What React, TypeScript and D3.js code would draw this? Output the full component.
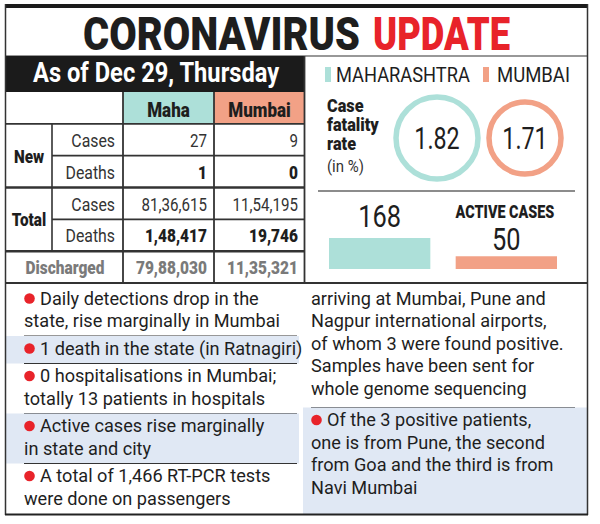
import React from "react";
import * as d3 from "d3";

// ---- data ----
const title = ["CORONAVIRUS", "UPDATE"];
const dateLabel = "As of Dec 29, Thursday";
const regions = ["Maha", "Mumbai"];
const legendLabels = ["MAHARASHTRA", "MUMBAI"];
const groups = ["New", "Total"];
const measures = ["Cases", "Deaths"];
const mahaValues = [27, 1, 8136615, 148417];
const mumbaiValues = [9, 0, 1154195, 19746];
const dischargedValues = [7988030, 1135321];
const fatalityRates = [1.82, 1.71];
const activeCases = [168, 50];

const leftBullets = [
  { lines: ["Daily detections drop in the", "state, rise marginally in Mumbai"], shaded: false, dot: true },
  { lines: ["1 death in the state (in Ratnagiri)"], shaded: true, dot: true },
  { lines: ["0 hospitalisations in Mumbai;", "totally 13 patients in hospitals"], shaded: false, dot: true },
  { lines: ["Active cases rise marginally", "in state and city"], shaded: true, dot: true },
  { lines: ["A total of 1,466 RT-PCR tests", "were done on passengers"], shaded: false, dot: true },
];
const rightBullets = [
  {
    lines: [
      "arriving at Mumbai, Pune and",
      "Nagpur international airports,",
      "of whom 3 were found positive.",
      "Samples have been sent for",
      "whole genome sequencing",
    ],
    shaded: false,
    dot: false,
  },
  {
    lines: ["Of the 3 positive patients,", "one is from Pune, the second", "from Goa and the third is from", "Navi Mumbai"],
    shaded: true,
    dot: true,
  },
];

// ---- styles ----
const FONT = "Roboto, 'Liberation Sans', sans-serif";
const TEAL = "#ade0d9";
const SALMON = "#f2a186";
const RED = "#e8232a";
const INK = "#1e1e1e";
const LINE = "#333";
const SHADE = "#e0e8f4";
const GREY = "#7a7a7a";

let measureCtx: CanvasRenderingContext2D | null = null;
function measure(text: string, size: number, weight: number | string): number {
  if (!measureCtx) {
    const c = document.createElement("canvas");
    measureCtx = c.getContext("2d");
  }
  if (!measureCtx) return text.length * size * 0.55;
  measureCtx.font = `${weight} ${size}px Roboto, 'Liberation Sans', sans-serif`;
  return measureCtx.measureText(text).width || text.length * size * 0.55;
}

function fmtIndian(n: number): string {
  const s = String(Math.round(n));
  if (s.length <= 3) return s;
  const last3 = s.slice(-3);
  let rest = s.slice(0, -3);
  const parts: string[] = [];
  while (rest.length > 2) {
    parts.unshift(rest.slice(-2));
    rest = rest.slice(0, -2);
  }
  if (rest.length) parts.unshift(rest);
  return parts.join(",") + "," + last3;
}

type TProps = {
  x: number;
  y: number;
  size: number;
  weight?: number | string;
  fill?: string;
  anchor?: "start" | "middle" | "end";
  sx?: number;
  fit?: number;
  children: string | number;
};
function T({ x, y, size, weight = 400, fill = INK, anchor = "start", sx = 1, fit, children }: TProps) {
  const s = fit ? fit / measure(String(children), size, weight) : sx;
  return (
    <text
      transform={`translate(${x},${y}) scale(${s},1)`}
      fontFamily={FONT}
      fontSize={size}
      fontWeight={weight}
      fill={fill}
      textAnchor={anchor}
    >
      {children}
    </text>
  );
}

export default function App() {
  const W = 600;
  const H = 524;

  // table scales
  const rowKeys = ["head", "newCases", "newDeaths", "totCases", "totDeaths", "discharged"];
  const yRow = d3.scaleBand<string>().domain(rowKeys).range([92, 283]);
  const xCol = d3.scaleBand<string>().domain(regions).range([123, 305]);
  const labelSplit = 52;
  const tableLeft = 6;
  const rh = yRow.bandwidth();

  const dataRows = ["newCases", "newDeaths", "totCases", "totDeaths"];
  const bodySX = 0.955;

  // bar scale for active cases
  const barH = d3.scaleLinear().domain([0, d3.max(activeCases) as number]).range([5, 31]);
  const barX = d3.scaleBand<string>().domain(regions).range([329, 557]).paddingInner(0.2);
  const barBottom = 269;

  const circleX = d3.scaleOrdinal<string, number>().domain(regions).range([437, 525]);
  const circleR = [41, 36];
  const colors = [TEAL, SALMON];

  const renderBullets = (
    items: { lines: string[]; shaded: boolean; dot: boolean }[],
    x0: number,
    x1: number,
    lineX0: number,
    lineX1: number,
    top: number,
    pad: number
  ) => {
    let y = top;
    const out: React.ReactNode[] = [];
    items.forEach((b, i) => {
      const h = pad + 22.5 * b.lines.length;
      if (b.shaded) out.push(<rect key={`bg${i}`} x={x0} y={y} width={x1 - x0} height={i === items.length - 1 ? 514 - y : h} fill={SHADE} />);
      b.lines.forEach((ln, j) => {
        const by = y + 18.5 + j * 22.5;
        const tx = j === 0 && b.dot ? lineX0 + 16 : lineX0;
        out.push(
          <T key={`t${i}-${j}`} x={tx} y={by} size={19} sx={bodySX}>
            {ln}
          </T>
        );
      });
      if (b.dot) out.push(<circle key={`d${i}`} cx={lineX0 + 5.5} cy={y + 12.5} r={5.3} fill={RED} />);
      if (i < items.length - 1)
        out.push(<line key={`s${i}`} x1={lineX0} x2={lineX1} y1={y + h} y2={y + h} stroke={LINE} strokeWidth={1.2} />);
      y += h;
    });
    return out;
  };

  return (
    <svg width={W} height={H} style={{ position: "absolute", left: 0, top: 0, background: "#fff" }}>
      <rect x={0} y={0} width={W} height={H} fill="#fff" />

      {/* bottom bullet areas */}
      {renderBullets(leftBullets, 6, 299, 24, 297, 286, 5)}
      {renderBullets(rightBullets, 303, 587, 311, 575, 286, 9)}

      {/* title */}
      <T x={83} y={50} size={46} weight={900} fit={277}>
        {title[0]}
      </T>
      <T x={373} y={50} size={46} weight={900} fill="#e8232a" fit={137}>
        {title[1]}
      </T>
      <line x1={5} x2={588} y1={56} y2={56} stroke={LINE} strokeWidth={1.2} />

      {/* date band */}
      <rect x={6} y={56} width={299} height={36} fill="#1b1b1b" />
      <T x={33} y={82} size={27} weight={700} fill="#fff" fit={247}>
        {dateLabel}
      </T>

      {/* legend */}
      <rect x={325} y={67} width={6} height={15} fill={TEAL} />
      <T x={336} y={82} size={20} fit={134}>
        {legendLabels[0]}
      </T>
      <rect x={483} y={67} width={6} height={15} fill={SALMON} />
      <T x={497} y={82} size={20} fit={73}>
        {legendLabels[1]}
      </T>

      {/* table header */}
      {regions.map((r, i) => (
        <g key={r}>
          <rect x={xCol(r)} y={yRow("head")} width={xCol.bandwidth()} height={rh} fill={colors[i]} />
          <T x={(xCol(r) as number) + xCol.bandwidth() / 2} y={(yRow("head") as number) + 25} size={20} weight={900} anchor="middle" sx={0.85}>
            {r}
          </T>
        </g>
      ))}

      {/* table body */}
      {dataRows.map((rk, i) => {
        const y = yRow(rk) as number;
        return (
          <g key={rk}>
            <T x={115} y={y + 23} size={18} sx={0.88} fill="#333" anchor="end">
              {measures[i % 2]}
            </T>
            {[mahaValues, mumbaiValues].map((vals, c) => (
              <T
                key={c}
                x={(xCol(regions[c]) as number) + xCol.bandwidth() - 7}
                y={y + 23}
                size={18}
                weight={i % 2 === 1 ? 900 : 400}
                anchor="end"
                sx={i % 2 === 1 ? 0.86 : 0.84}
                fill={i % 2 === 1 ? INK : "#333"}
              >
                {fmtIndian(vals[i])}
              </T>
            ))}
          </g>
        );
      })}
      {groups.map((g, i) => {
        const y = (yRow(dataRows[i * 2]) as number) + rh;
        return (
          <T key={g} x={tableLeft + 23} y={y + 7} size={18} weight={900} anchor="middle" sx={0.85}>
            {g}
          </T>
        );
      })}
      {/* discharged row */}
      <T x={65} y={(yRow("discharged") as number) + 23} size={18} weight={900} anchor="middle" fill={GREY} sx={0.86}>
        Discharged
      </T>
      {dischargedValues.map((v, c) => (
        <T
          key={c}
          x={(xCol(regions[c]) as number) + xCol.bandwidth() - 7}
          y={(yRow("discharged") as number) + 23}
          size={18}
          weight={900}
          anchor="end"
          fill={GREY}
          sx={0.86}
        >
          {fmtIndian(v)}
        </T>
      ))}
      {/* table lines */}
      {rowKeys.slice(1).map((rk) => {
        const y = yRow(rk) as number;
        const full = rk === "newCases" || rk === "totCases" || rk === "discharged";
        return (
          <line
            key={rk}
            x1={full ? tableLeft : labelSplit}
            x2={305}
            y1={y}
            y2={y}
            stroke={LINE}
            strokeWidth={rk === "totCases" || rk === "discharged" ? 2.5 : 1.6}
          />
        );
      })}
      <line x1={labelSplit} x2={labelSplit} y1={yRow("newCases")} y2={yRow("discharged")} stroke={LINE} strokeWidth={1.6} />
      {regions.map((r) => (
        <line key={r} x1={xCol(r)} x2={xCol(r)} y1={92} y2={283} stroke={LINE} strokeWidth={1.8} />
      ))}
      <line x1={304.5} x2={304.5} y1={56} y2={283} stroke={LINE} strokeWidth={1.8} />
      <line x1={5} x2={588} y1={283} y2={283} stroke={LINE} strokeWidth={1.8} />

      {/* case fatality rate */}
      <T x={327} y={112} size={18.5} weight={900} sx={0.88}>
        Case
      </T>
      <T x={327} y={131} size={18.5} weight={900} sx={0.88}>
        fatality
      </T>
      <T x={327} y={150} size={18.5} weight={900} sx={0.88}>
        rate
      </T>
      <T x={327} y={172} size={17} sx={0.88} fill="#333">
        (in %)
      </T>
      {regions.map((r, i) => (
        <g key={r}>
          <circle cx={circleX(r)} cy={138} r={circleR[i]} fill="none" stroke={colors[i]} strokeWidth={5.5} />
          <T x={circleX(r)} y={149} size={31} anchor="middle" sx={0.75} fill={INK}>
            {fatalityRates[i].toFixed(2)}
          </T>
        </g>
      ))}
      <line x1={318} x2={575} y1={191} y2={191} stroke="#666" strokeWidth={1.3} />

      {/* active cases */}
      <T x={505} y={218} size={18} weight={900} anchor="middle" sx={0.8}>
        ACTIVE CASES
      </T>
      {regions.map((r, i) => {
        const h = barH(activeCases[i]);
        return (
          <g key={r}>
            <rect x={barX(r)} y={barBottom - h} width={barX.bandwidth()} height={h} fill={colors[i]} />
            <T
              x={(barX(r) as number) + barX.bandwidth() / 2}
              y={i === 0 ? 227 : 250}
              size={31}
              anchor="middle"
              sx={0.82}
            >
              {activeCases[i]}
            </T>
          </g>
        );
      })}

      {/* frame */}
      <rect x={5} y={4} width={583} height={4} fill="#1b1b1b" />
      <line x1={5.5} x2={5.5} y1={4} y2={515} stroke={LINE} strokeWidth={1.5} />
      <line x1={587.5} x2={587.5} y1={4} y2={515} stroke={LINE} strokeWidth={1.5} />
      <line x1={5} x2={588} y1={514.5} y2={514.5} stroke="#222" strokeWidth={2} />
    </svg>
  );
}
